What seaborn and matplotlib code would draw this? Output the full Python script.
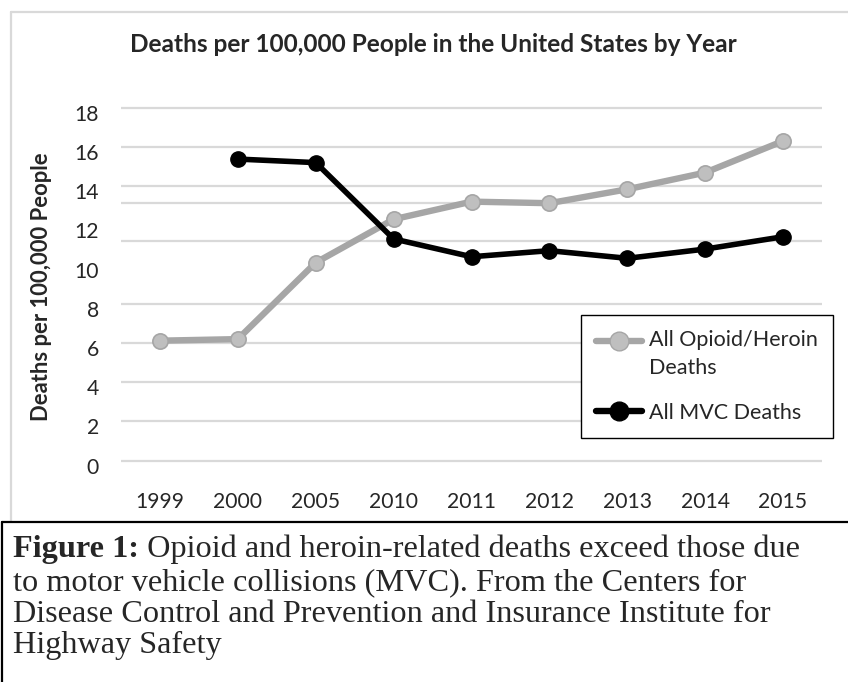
import matplotlib
matplotlib.use("Agg")
import matplotlib.pyplot as plt
import numpy as np
import pandas as pd
import seaborn as sns
from matplotlib.lines import Line2D
from matplotlib.transforms import ScaledTranslation

# ---------------- data ----------------
years = ["1999", "2000", "2005", "2010", "2011", "2012", "2013", "2014", "2015"]
opioid = [6.12, 6.20, 10.10, 12.31, 13.21, 13.13, 13.84, 14.69, 16.30]
mvc_years = ["2000", "2005", "2010", "2011", "2012", "2013", "2014", "2015"]
mvc = [15.38, 15.20, 11.31, 10.40, 10.71, 10.32, 10.79, 11.42]
y_ticks = [0, 2, 4, 6, 8, 10, 12, 14, 16, 18]
grid_levels = [0, 2, 4, 6, 8, 11.2, 13.15, 14, 16, 18]
series_names = ["All Opioid/Heroin\nDeaths", "All MVC Deaths"]
title = "Deaths per 100,000 People in the United States by Year"
ylabel = "Deaths per 100,000 People"
caption_bold = "Figure 1:"
caption_lines = [
    " Opioid and heroin-related deaths exceed those due",
    "to motor vehicle collisions (MVC). From the Centers for",
    "Disease Control and Prevention and Insurance Institute for",
    "Highway Safety",
]

df_op = pd.DataFrame({"pos": [years.index(y) for y in years], "value": opioid})
df_mvc = pd.DataFrame({"pos": [years.index(y) for y in mvc_years], "value": mvc})

# ---------------- style ----------------
sns.set_style("white")
plt.rcParams["font.family"] = ["Lato", "DejaVu Sans"]

W, H = 848, 682
fig = plt.figure(figsize=(W / 100, H / 100), dpi=100)


def fx(px):
    return px / W


def fy(py):
    return 1 - py / H


y0px, y18px = 460.7, 107.7
ppu = (y0px - y18px) / 18
ylo, yhi = -0.4, 18.4
ax_bottom = y0px + (0 - ylo) * ppu
ax_top = y18px - (yhi - 18) * ppu
ax = fig.add_axes([fx(121), fy(ax_bottom), fx(822) - fx(121), (ax_bottom - ax_top) / H])

GRID = "#D9D9D9"
OP_LINE = "#A6A6A6"
OP_FILL = "#BFBFBF"

for g in grid_levels:
    ax.axhline(g, color=GRID, lw=1.6, zorder=0)

sns.lineplot(data=df_op, x="pos", y="value", ax=ax, color=OP_LINE, lw=4.6,
             marker="o", markersize=11, markerfacecolor=OP_FILL,
             markeredgecolor=OP_LINE, markeredgewidth=1.2, legend=False, zorder=3)
sns.lineplot(data=df_mvc, x="pos", y="value", ax=ax, color="black", lw=4.0,
             marker="o", markersize=11, markerfacecolor="black",
             markeredgecolor="black", markeredgewidth=1.0, legend=False, zorder=4)

ax.set_xlim(-0.5, len(years) - 0.5)
ax.set_ylim(ylo, yhi)
ax.set_xticks(range(len(years)))
ax.set_xticklabels(years)
ax.set_yticks(y_ticks)
ax.set_yticklabels([str(t) for t in y_ticks])
ax.set_xlabel("")
ax.set_ylabel("")
ax.grid(False)
for s in ax.spines.values():
    s.set_visible(False)
ax.tick_params(axis="x", length=0, labelsize=15.2, pad=17)
ax.tick_params(axis="y", length=0, labelsize=15.2, pad=15.8)
for lbl in ax.get_yticklabels():
    lbl.set_transform(lbl.get_transform() + ScaledTranslation(0, -0.05, fig.dpi_scale_trans))

fig.text(fx(433), fy(45), title, ha="center", va="center", fontweight="bold", fontsize=17.6)
fig.text(fx(42), fy(287), ylabel, ha="center", va="center", rotation=90,
         fontweight="bold", fontsize=15.8)

# legend
lf = 15.5
h1 = Line2D([], [], color=OP_LINE, lw=4.6, marker="o", markersize=13.5,
            markerfacecolor=OP_FILL, markeredgecolor=OP_LINE)
h2 = Line2D([], [], color="black", lw=4.6, marker="o", markersize=13.5)
leg = fig.legend([h1, h2], series_names, loc="upper left",
                 bbox_to_anchor=(fx(580.7), fy(315)), bbox_transform=fig.transFigure,
                 frameon=True, fancybox=False, edgecolor="black", framealpha=1,
                 borderpad=0.72, borderaxespad=0, handlelength=2.15, handletextpad=0.3,
                 labelspacing=1.12, fontsize=lf)
leg.get_frame().set_linewidth(1.0)
leg.get_texts()[0].set_linespacing(1.5)
# align the first key with the first line of its two-line label
hk = leg.legend_handles[0]
hk.set_ydata(np.asarray(hk.get_ydata()) + 0.66 * lf)

# borders
fig.add_artist(Line2D([fx(11), fx(11)], [fy(12), fy(521)], color=GRID, lw=1.6,
                      transform=fig.transFigure))
fig.add_artist(Line2D([fx(11), 1], [fy(12), fy(12)], color=GRID, lw=1.6,
                      transform=fig.transFigure))
fig.add_artist(Line2D([fx(1.5), 1], [fy(521.7), fy(521.7)], color="black", lw=1.6,
                      transform=fig.transFigure))
fig.add_artist(Line2D([fx(1.5), fx(1.5)], [fy(521.7), 0], color="black", lw=1.6,
                      transform=fig.transFigure))

# caption
serif = ["Liberation Serif", "DejaVu Serif"]
cs = 23.2
baselines = [557, 590, 622, 653]
t0 = fig.text(fx(13), fy(baselines[0]), caption_bold, fontweight="bold", family=serif,
              fontsize=cs, va="baseline", ha="left")
fig.canvas.draw()
r = fig.canvas.get_renderer()
bb = t0.get_window_extent(r)
fig.text(bb.x1 / W, fy(baselines[0]), caption_lines[0], family=serif, fontsize=cs,
         va="baseline", ha="left")
for line, b in zip(caption_lines[1:], baselines[1:]):
    fig.text(fx(13), fy(b), line, family=serif, fontsize=cs, va="baseline", ha="left")

fig.savefig("out.png", dpi=100)
